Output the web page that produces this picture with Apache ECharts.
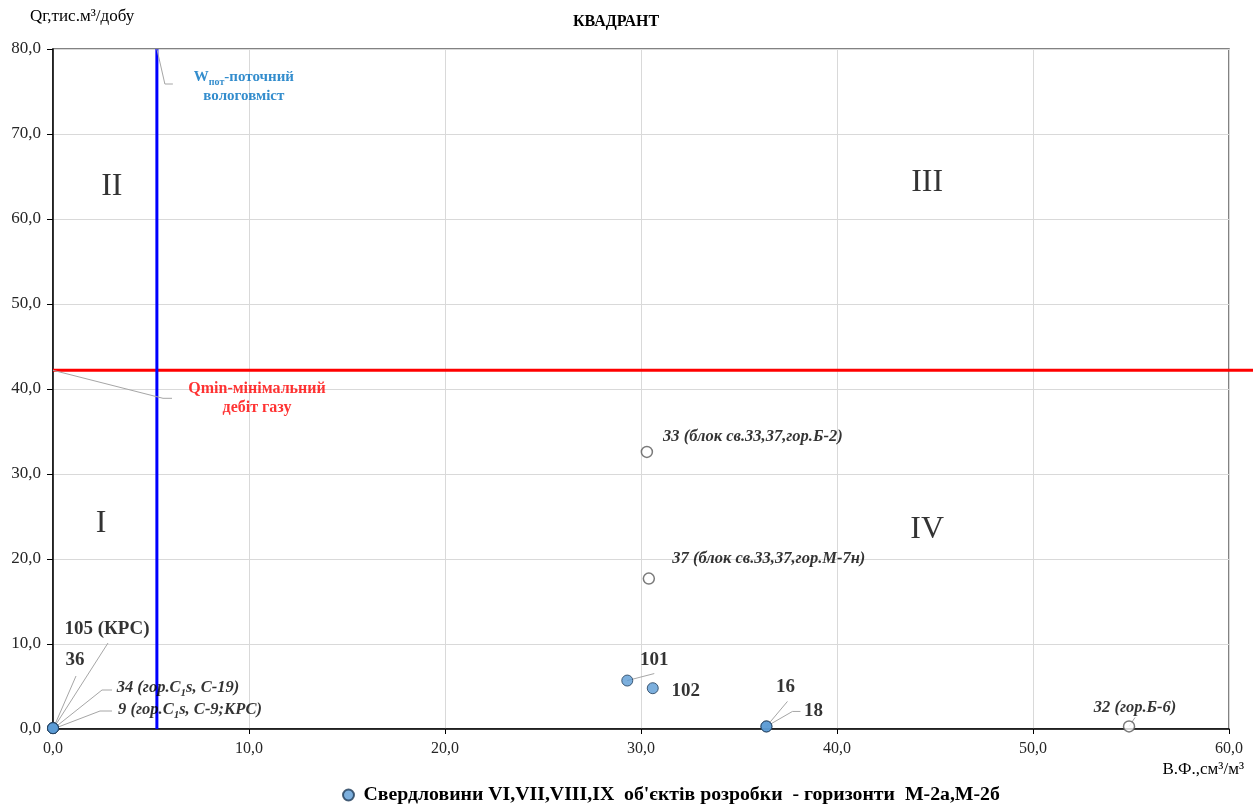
<!DOCTYPE html>
<html>
<head>
<meta charset="utf-8">
<title>КВАДРАНТ</title>
<script src="https://cdn.jsdelivr.net/npm/echarts@6/dist/echarts.min.js"></script>
<style>
  html, body { margin: 0; padding: 0; background: #fff; }
  #chart { width: 1253px; height: 808px; }
</style>
</head>
<body>
<div id="chart"></div>
<script>
// Свердловини, що працюють (заповнені маркери)
const activeWells = ['105', '36', '34', '9', '101', '102', '16', '18'];
const activeX = [0, 0, 0, 0, 29.3, 30.6, 36.4, 36.4];
const activeY = [0.1, 0.1, 0.1, 0.1, 5.7, 4.8, 0.3, 0.3];
const activeLabels = [
  '105 (КРС)',
  '36',
  '34 (гор.C{sub|1}s, C-19)',
  '9 (гор.C{sub|1}s, C-9;КРС)',
  '101',
  '102',
  '16',
  '18'
];

// Інші свердловини (порожні маркери)
const otherWells = ['33', '37', '32'];
const otherX = [30.3, 30.4, 54.9];
const otherY = [32.6, 17.7, 0.3];
const otherLabels = [
  '33 (блок св.33,37,гор.Б-2)',
  '37 (блок св.33,37,гор.М-7н)',
  '32 (гор.Б-6)'
];

// Граничні значення
const wCurrent = 5.3;   // поточний вологовміст, см3/м3
const qMin = 42.2;      // мінімальний дебіт газу, тис.м3/добу

// Квадранти
const quadrantNames = ['I', 'II', 'III', 'IV'];
const quadrantX = [2.45, 3.0, 44.6, 44.6];
const quadrantY = [24.2, 63.8, 64.3, 23.5];

// Осі
const xTicks = [0, 10, 20, 30, 40, 50, 60];
const yTicks = [0, 10, 20, 30, 40, 50, 60, 70, 80];

const legendName = "Свердловини VI,VII,VIII,IX  об'єктів розробки  - горизонти  М-2а,М-2б";

const SERIF = "'Liberation Serif', 'Times New Roman', serif";
const fmt = v => v.toFixed(1).replace('.', ',');

// Розміщення області побудови (px)
const GRID = { left: 53, right: 24, top: 49, bottom: 79 };
const CHART_W = 1253;
const plotW = CHART_W - GRID.left - GRID.right;
const xMax = xTicks[xTicks.length - 1];
const yMax = yTicks[yTicks.length - 1];
// лінія Qmin тягнеться до правого краю полотна
const xMaxWide = xMax * (CHART_W - GRID.left) / plotW;

// Зсуви центрів підписів відносно маркерів (px)
const activeOffsets = {
  '105': [54, -99], '36': [22, -68], '34': [125, -40], '9': [137, -18],
  '101': [27, -20], '102': [33, 3], '16': [19, -39], '18': [47, -15]
};
const otherOffsets = { '33': [106, -15], '37': [120, -20], '32': [6, -19] };

// Виносні лінії: вершини ламаної відносно маркера (px)
const leaders = {
  '105': [[55, -86]],
  '36': [[23, -53]],
  '34': [[49, -39], [59, -39]],
  '9': [[47, -18], [59, -18]],
  '101': [[27, -7]],
  '16': [[21, -25]],
  '18': [[26, -15], [34, -15]],
  '32': [[6, -9]],
  'W': [[8, 35], [16, 35]],
  'Q': [[110, 28], [119, 28]]
};
const leaderPoints = [
  ['105', 0, 0], ['36', 0, 0], ['34', 0, 0], ['9', 0, 0]
];
activeWells.forEach((n, i) => { if (leaders[n] && i > 3) leaderPoints.push([n, activeX[i], activeY[i]]); });
otherWells.forEach((n, i) => { if (leaders[n]) leaderPoints.push([n, otherX[i], otherY[i]]); });
leaderPoints.push(['W', wCurrent, yMax], ['Q', 0, qMin]);

const bigLabel = { fontFamily: SERIF, fontWeight: 'bold', fontSize: 19, color: '#000' };
const italicLabel = {
  fontFamily: SERIF, fontWeight: 'bold', fontStyle: 'italic', fontSize: 16.5, color: '#000',
  rich: {
    sub: { fontFamily: SERIF, fontWeight: 'bold', fontStyle: 'italic', fontSize: 11,
           verticalAlign: 'bottom', lineHeight: 21, color: '#000' }
  }
};

const mkItem = (n, x, y, text, style) => ({
  name: n,
  value: [x, y],
  label: Object.assign({ show: true, position: 'inside', formatter: text }, style)
});

const activeData = activeWells.map((n, i) =>
  mkItem(n, activeX[i], activeY[i], activeLabels[i], (n === '34' || n === '9') ? italicLabel : bigLabel));
const otherData = otherWells.map((n, i) =>
  mkItem(n, otherX[i], otherY[i], otherLabels[i], italicLabel));

const axisLabelStyle = { fontFamily: SERIF, color: '#262626', formatter: fmt };

const chart = echarts.init(document.getElementById('chart'), null, { renderer: 'canvas' });

chart.setOption({
  animation: false,
  backgroundColor: '#fff',
  textStyle: { fontFamily: SERIF },
  title: {
    text: 'КВАДРАНТ',
    left: 568,
    top: 9,
    textStyle: { fontFamily: SERIF, fontWeight: 'bold', fontSize: 16, color: '#000' }
  },
  legend: {
    top: 780,
    left: 337,
    data: [{ name: legendName, icon: 'circle' }],
    itemWidth: 20,
    itemHeight: 11,
    textStyle: { fontFamily: SERIF, fontWeight: 'bold', fontSize: 19.8, color: '#000' }
  },
  grid: [
    Object.assign({ show: true, borderColor: '#595959', borderWidth: 1.5, backgroundColor: 'transparent' }, GRID),
    { left: GRID.left, right: 0, top: GRID.top, bottom: GRID.bottom, show: false }
  ],
  xAxis: [
    {
      type: 'value', gridIndex: 0,
      min: xTicks[0], max: xMax, interval: 10,
      axisLine: { show: true, onZero: false, lineStyle: { color: '#000', width: 1.5 } },
      axisTick: { show: true, length: 5, lineStyle: { color: '#000' } },
      axisLabel: Object.assign({ margin: 12, fontSize: 16 }, axisLabelStyle),
      splitLine: { show: true, lineStyle: { color: '#d9d9d9', width: 1 } }
    },
    { type: 'value', gridIndex: 1, min: 0, max: xMaxWide, show: false }
  ],
  yAxis: [
    {
      type: 'value', gridIndex: 0,
      min: yTicks[0], max: yMax, interval: 10,
      axisLine: { show: true, onZero: false, lineStyle: { color: '#000', width: 1.5 } },
      axisTick: { show: true, length: 6, lineStyle: { color: '#000' } },
      axisLabel: Object.assign({ margin: 12, fontSize: 17 }, axisLabelStyle),
      splitLine: { show: true, lineStyle: { color: '#d9d9d9', width: 1 } }
    },
    { type: 'value', gridIndex: 1, min: yTicks[0], max: yMax, show: false }
  ],
  graphic: [
    {
      type: 'text', left: 30, top: 8,
      style: { text: 'Qг,тис.м³/добу', fontFamily: SERIF, fontSize: 17, fill: '#000' }
    },
    {
      type: 'text', right: 9, top: 761,
      style: { text: 'В.Ф.,см³/м³', fontFamily: SERIF, fontSize: 17, fill: '#000' }
    }
  ],
  series: [
    {
      name: 'Qmin',
      type: 'line',
      xAxisIndex: 1, yAxisIndex: 1,
      data: [[0, qMin], [xMaxWide, qMin]],
      showSymbol: false,
      lineStyle: { color: '#ff0000', width: 3 },
      z: 2,
      silent: true
    },
    {
      name: 'Wпот',
      type: 'line',
      data: [[wCurrent, yTicks[0]], [wCurrent, yMax]],
      showSymbol: false,
      lineStyle: { color: '#0000ff', width: 3 },
      z: 3,
      silent: true
    },
    {
      name: 'leaders',
      type: 'custom',
      data: leaderPoints.map(p => [p[1], p[2], p[0]]),
      dimensions: ['x', 'y', 'name'],
      encode: { x: 0, y: 1 },
      clip: false,
      silent: true,
      z: 4,
      renderItem: (params, api) => {
        const key = leaderPoints[params.dataIndex][0];
        const base = api.coord([api.value(0), api.value(1)]);
        const pts = [base].concat(leaders[key].map(o => [base[0] + o[0], base[1] + o[1]]));
        return {
          type: 'polyline',
          shape: { points: pts },
          style: { stroke: '#a6a6a6', lineWidth: 1, fill: null }
        };
      }
    },
    {
      name: 'limits',
      type: 'scatter',
      symbolSize: 1,
      itemStyle: { color: 'rgba(0,0,0,0)' },
      data: [
        {
          name: 'W', value: [wCurrent, yMax],
          label: {
            show: true, position: 'inside',
            formatter: '{w|W}{s|пот}{w|-поточний}\n{w|вологовміст}',
            rich: {
              w: { fontFamily: SERIF, fontWeight: 'bold', fontSize: 15, color: '#0070c0', lineHeight: 19 },
              s: { fontFamily: SERIF, fontWeight: 'bold', fontSize: 10, color: '#0070c0',
                   verticalAlign: 'bottom', lineHeight: 19 }
            }
          }
        },
        {
          name: 'Q', value: [0, qMin],
          label: {
            show: true, position: 'inside', align: 'center',
            formatter: 'Qmin-мінімальний\nдебіт газу',
            fontFamily: SERIF, fontWeight: 'bold', fontSize: 16, color: '#ff0000', lineHeight: 19
          }
        }
      ],
      labelLayout: p => (p.dataIndex === 0 ? { dx: 87, dy: 38 } : { dx: 204, dy: 28 }),
      clip: false,
      z: 5,
      silent: true
    },
    {
      name: 'quadrants',
      type: 'scatter',
      symbolSize: 1,
      itemStyle: { color: 'rgba(0,0,0,0)' },
      data: quadrantNames.map((q, i) => ({
        name: q,
        value: [quadrantX[i], quadrantY[i]],
        label: {
          show: true, position: 'inside', formatter: q,
          fontFamily: SERIF, fontSize: 32, color: '#000',
          backgroundColor: q === 'IV' ? '#fff' : 'transparent',
          padding: q === 'IV' ? [2, 15, 2, 15] : 0
        }
      })),
      z: 1,
      silent: true
    },
    {
      name: 'other',
      type: 'scatter',
      symbol: 'circle',
      symbolSize: 11,
      itemStyle: { color: '#fff', borderColor: '#595959', borderWidth: 1.5 },
      data: otherData,
      labelLayout: p => {
        const o = otherOffsets[otherWells[p.dataIndex]];
        return { dx: o[0], dy: o[1] };
      },
      z: 6
    },
    {
      name: legendName,
      type: 'scatter',
      symbol: 'circle',
      symbolSize: 11,
      itemStyle: { color: '#5b9bd5', borderColor: '#1f3b57', borderWidth: 1 },
      data: activeData,
      labelLayout: p => {
        const o = activeOffsets[activeWells[p.dataIndex]];
        return { dx: o[0], dy: o[1] };
      },
      clip: false,
      z: 7
    }
  ]
});
</script>
</body>
</html>
